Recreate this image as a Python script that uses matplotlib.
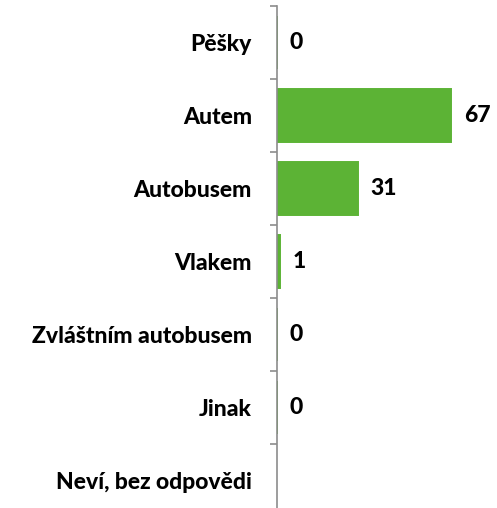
import numpy as np
import matplotlib
matplotlib.use("Agg")
from matplotlib import pyplot as plt

categories = ["Pěšky", "Autem", "Autobusem", "Vlakem", "Zvláštním autobusem", "Jinak", "Neví, bez odpovědi"]
values = [0, 67, 31, 1, 0, 0, None]

green = "#5CB335"
axis_grey = "#8C8C8C"

plt.rcParams['font.family'] = ['Lato', 'DejaVu Sans']

fig = plt.figure(figsize=(4.97, 5.08), dpi=100)
ax = fig.add_axes([277 / 497, 1 - 517 / 508, 1 - 277 / 497, 511 / 508])

y_pos = np.arange(len(categories))
for y, v in zip(y_pos, values):
    if v is None:
        continue
    ax.barh(y, v, height=0.72, color=green, edgecolor=green, linewidth=1.4)
    ax.text(v + 13 / 2.6, y, str(v), va='center', ha='left', fontsize=16.5, fontweight='black')

ax.set_xlim(0, 220 / 2.6)
ax.set_ylim(len(categories) - 0.5, -0.5)

ax.set_yticks(y_pos)
ax.set_yticklabels(categories, fontsize=16.5, fontweight='black')
ax.tick_params(axis='y', which='major', length=0, pad=18)
ax.set_yticks(np.arange(len(categories) + 1) - 0.5, minor=True)
ax.tick_params(axis='y', which='minor', length=5, width=1.2, color=axis_grey, direction='out')
ax.set_xticks([])

for s in ['top', 'right', 'bottom']:
    ax.spines[s].set_visible(False)
ax.spines['left'].set_color(axis_grey)
ax.spines['left'].set_linewidth(1.2)

fig.savefig("out.png", dpi=100)
